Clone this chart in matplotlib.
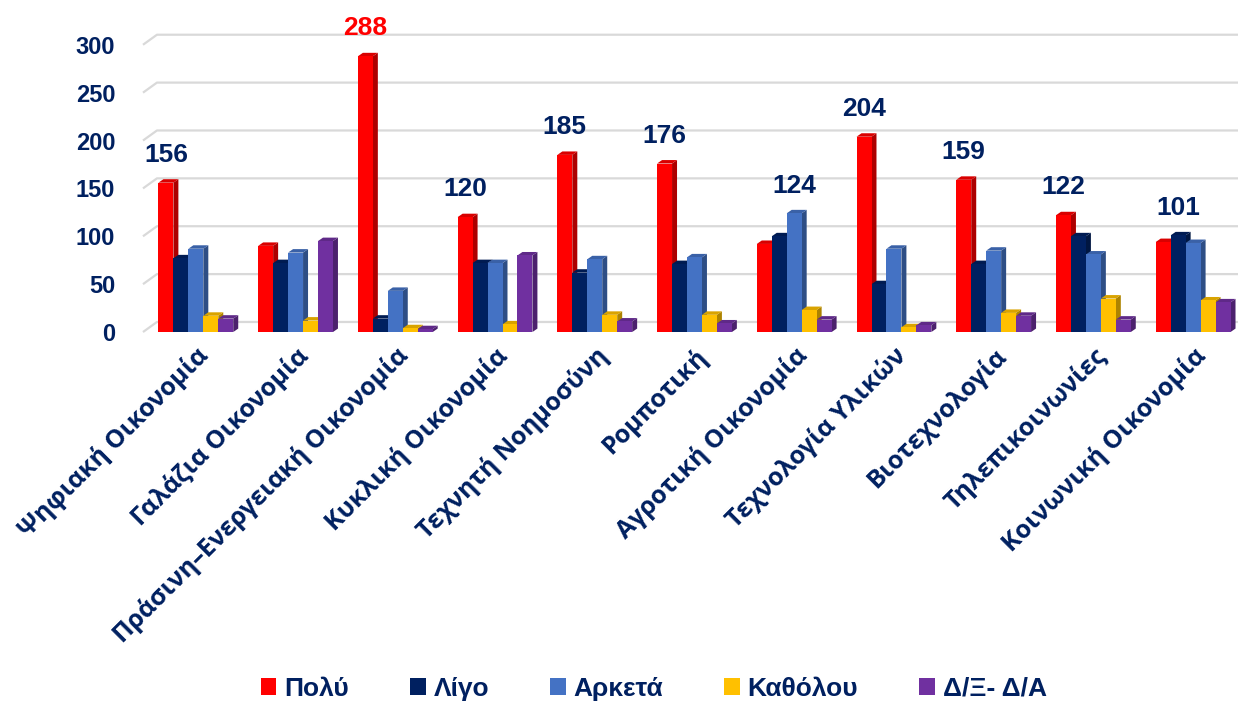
import matplotlib.pyplot as plt
from matplotlib.patches import Polygon
from matplotlib.colors import to_rgb
import numpy as np

plt.rcParams['font.family'] = ['Liberation Sans', 'DejaVu Sans']

categories = ['Ψηφιακή Οικονομία', 'Γαλάζια Οικονομία', 'Πράσινη–Ενεργειακή Οικονομία',
              'Κυκλική Οικονομία', 'Τεχνητή Νοημοσύνη', 'Ρομποτική', 'Αγροτική Οικονομία',
              'Τεχνολογία Υλικών', 'Βιοτεχνολογία', 'Τηλεπικοινωνίες', 'Κοινωνική Οικονομία']
series_names = ['Πολύ', 'Λίγο', 'Αρκετά', 'Καθόλου', 'Δ/Ξ- Δ/Α']
poly = [156, 90, 288, 120, 185, 176, 92, 204, 159, 122, 94]
ligo = [77, 72, 14, 72, 62, 71, 100, 50, 71, 100, 101]
arketa = [87, 83, 43, 72, 76, 78, 124, 87, 85, 81, 93]
katholou = [17, 12, 4, 8, 18, 18, 23, 5, 20, 35, 33]
dxda = [14, 95, 3, 80, 11, 9, 13, 7, 17, 13, 31]
labeled = [True, False, True, True, True, True, True, True, True, True, True]
yticks = [0, 50, 100, 150, 200, 250, 300]

colors = ['#FF0000', '#002060', '#4472C4', '#FFC000', '#7030A0']
text_color = '#002060'
series = [poly, ligo, arketa, katholou, dxda]

fig = plt.figure(figsize=(12.38, 7.06), dpi=100)
ax = fig.add_axes([0.1155, 0.5297, 0.8845, 0.434])
xmin, xmax = -0.57, 10.41
ax.set_xlim(xmin, xmax)
ax.set_ylim(0, 320)

def darker(c, f):
    r, g, b = to_rgb(c)
    return (r * f, g * f, b * f)

# back wall gridlines (3D look)
gdx, gdy = 0.14, 10.5
for v in yticks:
    ax.plot([xmin, xmin + gdx, xmax], [v, v + gdy, v + gdy], color='#D9D9D9',
            lw=1.6, zorder=0, clip_on=False, solid_capstyle='butt')

x = np.arange(len(categories))
w = 0.15
offsets = [-0.3, -0.15, 0, 0.15, 0.3]
shift = -0.04
ddx, ddy = 0.05, 3.6

for k, (vals, col) in enumerate(zip(series, colors)):
    xs = x + offsets[k] + shift
    z = 2 + k
    ax.bar(xs, vals, width=w, color=col, zorder=z + 0.5, label=series_names[k])
    for xi, v in zip(xs, vals):
        right = xi + w / 2
        left = xi - w / 2
        side = Polygon([[right, 0], [right + ddx, ddy], [right + ddx, v + ddy], [right, v]],
                       closed=True, fc=darker(col, 0.68), ec='none', zorder=z)
        top = Polygon([[left, v], [left + ddx, v + ddy], [right + ddx, v + ddy], [right, v]],
                      closed=True, fc=darker(col, 0.85), ec='none', zorder=z)
        ax.add_patch(side)
        ax.add_patch(top)

# data labels on the tallest bar of each group
for i in range(len(categories)):
    if not labeled[i]:
        continue
    vals = [s[i] for s in series]
    k = int(np.argmax(vals))
    lc = '#FF0000' if vals[k] == max(poly) else text_color
    ax.annotate(str(vals[k]), (x[i] + offsets[k] + shift, vals[k]), xytext=(0, 20),
                textcoords='offset points', ha='center', va='center', fontsize=19,
                fontweight='bold', color=lc, zorder=10, annotation_clip=False)

ax.set_yticks(yticks)
ax.set_yticklabels([str(t) for t in yticks], fontsize=17, fontweight='bold', color=text_color)
ax.set_xticks(x + shift)
ax.set_xticklabels(categories, rotation=45, ha='right', va='top', rotation_mode='anchor',
                   fontsize=18, fontweight='bold', color=text_color,
                   family=['Open Sans', 'DejaVu Sans'])
ax.tick_params(axis='y', length=0, pad=20)
ax.tick_params(axis='x', length=0, pad=8)
for s in ax.spines.values():
    s.set_visible(False)

fig.legend(loc='lower center', bbox_to_anchor=(0.528, -0.026), ncol=5, frameon=False,
           handlelength=0.6, handleheight=0.6, handletextpad=0.3, columnspacing=2.3,
           prop={'size': 19, 'weight': 'bold'}, labelcolor=text_color)

fig.savefig('out.png', dpi=100)
